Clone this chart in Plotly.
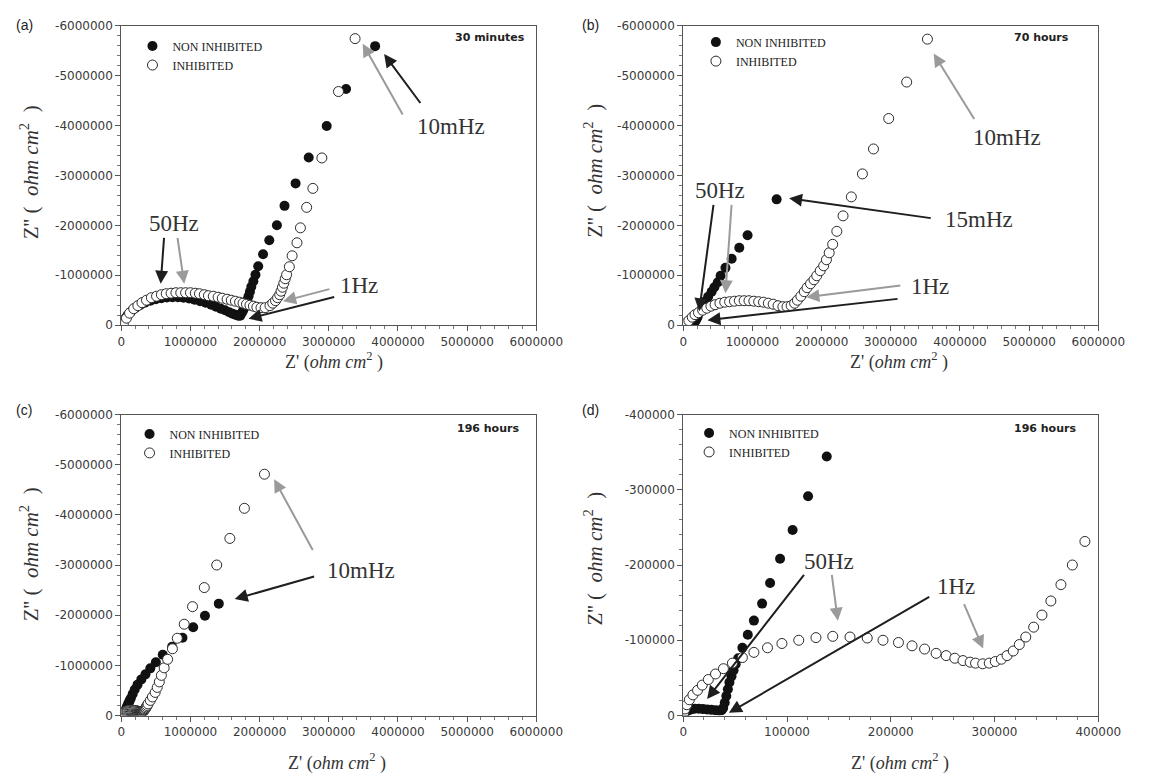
import numpy as np
import plotly.graph_objects as go

MEGA = 1e6
KILO = 1e3

# ---------------- (a) 30 minutes  (values in 10^6 ohm cm2, imag part given as -Z'') ----
a_non_zre = [0.00, 0.02, 0.05, 0.09, 0.14, 0.20, 0.27, 0.34, 0.42, 0.50, 0.58, 0.66, 0.74, 0.82, 0.90,
             0.98, 1.06, 1.14, 1.22, 1.30, 1.37, 1.44, 1.50, 1.56, 1.61, 1.65, 1.69, 1.72, 1.74, 1.76,
             1.78, 1.80, 1.82, 1.84, 1.86, 1.88, 1.91, 1.94, 1.98, 2.05, 2.14, 2.25, 2.36, 2.52, 2.71,
             2.97, 3.25, 3.67]
a_non_zim = [0.00, 0.06, 0.13, 0.20, 0.27, 0.34, 0.40, 0.45, 0.49, 0.52, 0.54, 0.555, 0.56, 0.56, 0.55,
             0.535, 0.51, 0.48, 0.45, 0.41, 0.37, 0.33, 0.30, 0.26, 0.23, 0.21, 0.19, 0.19, 0.24, 0.29,
             0.35, 0.42, 0.50, 0.58, 0.67, 0.77, 0.88, 1.01, 1.18, 1.42, 1.70, 2.00, 2.39, 2.84, 3.36,
             3.99, 4.73, 5.59]
a_inh_zre = [0.00, 0.03, 0.075, 0.12, 0.18, 0.24, 0.30, 0.365, 0.435, 0.51, 0.58, 0.65, 0.72, 0.79, 0.86,
             0.93, 1.00, 1.07, 1.13, 1.20, 1.26, 1.33, 1.40, 1.46, 1.53, 1.59, 1.65, 1.71, 1.76, 1.81,
             1.86, 1.91, 1.96, 2.02, 2.08, 2.15, 2.19, 2.23, 2.26, 2.29, 2.31, 2.33, 2.35, 2.37, 2.39,
             2.43, 2.47, 2.54, 2.59, 2.68, 2.77, 2.90, 3.14, 3.38]
a_inh_zim = [0.00, 0.013, 0.14, 0.24, 0.33, 0.39, 0.45, 0.50, 0.55, 0.58, 0.61, 0.63, 0.64, 0.65, 0.65,
             0.65, 0.65, 0.64, 0.63, 0.61, 0.59, 0.58, 0.56, 0.54, 0.52, 0.50, 0.48, 0.46, 0.44, 0.42,
             0.40, 0.38, 0.36, 0.35, 0.35, 0.39, 0.44, 0.49, 0.55, 0.61, 0.68, 0.76, 0.84, 0.93, 1.01,
             1.17, 1.39, 1.65, 1.95, 2.36, 2.74, 3.35, 4.68, 5.74]

# ---------------- (b) 70 hours (10^6 ohm cm2) ----------------
b_non_zre = [0.00, 0.02, 0.05, 0.08, 0.11, 0.14, 0.16, 0.175, 0.19, 0.20, 0.21, 0.24, 0.28, 0.31, 0.36,
             0.41, 0.45, 0.50, 0.54, 0.61, 0.70, 0.81, 0.93, 1.35]
b_non_zim = [0.00, 0.015, 0.03, 0.04, 0.045, 0.045, 0.05, 0.08, 0.12, 0.15, 0.18, 0.27, 0.37, 0.47, 0.57,
             0.67, 0.76, 0.86, 0.99, 1.15, 1.33, 1.55, 1.80, 2.52]
b_inh_zre = [0.00, 0.03, 0.08, 0.13, 0.17, 0.22, 0.28, 0.34, 0.40, 0.46, 0.53, 0.60, 0.67, 0.74, 0.81,
             0.88, 0.95, 1.02, 1.09, 1.16, 1.23, 1.30, 1.37, 1.44, 1.50, 1.56, 1.61, 1.65, 1.70, 1.75,
             1.79, 1.84, 1.89, 1.93, 1.98, 2.03, 2.07, 2.11, 2.16, 2.22, 2.31, 2.43, 2.59, 2.75, 2.97,
             3.23, 3.53]
b_inh_zim = [0.00, 0.03, 0.09, 0.16, 0.21, 0.25, 0.30, 0.34, 0.38, 0.41, 0.44, 0.46, 0.47, 0.48, 0.49,
             0.49, 0.49, 0.48, 0.47, 0.46, 0.44, 0.42, 0.39, 0.37, 0.37, 0.39, 0.44, 0.50, 0.58, 0.67,
             0.75, 0.83, 0.91, 0.99, 1.09, 1.19, 1.31, 1.45, 1.62, 1.88, 2.19, 2.57, 3.03, 3.53, 4.14,
             4.87, 5.73]

# ---------------- (c)/(d) 196 hours (10^3 ohm cm2) ----------------
c_non_zre = [0, 1.5, 4, 7.5, 11, 15, 19, 23, 27, 31, 34.5, 37, 38.5, 40, 41.5, 43, 44.5, 46.5, 48.5, 50.5,
             53, 57, 62.2, 68.1, 76, 83.7, 93.3, 105.4, 120.3, 138.3, 165, 195, 235, 290, 350, 420, 500,
             600, 735, 885, 1040, 1210, 1410]
c_non_zim = [0, 3, 6, 8, 9, 9, 8.5, 8, 7.5, 7, 6.5, 7, 10, 17, 26, 35, 44, 52, 60, 68,
             76, 90, 107.4, 126.1, 148.7, 176.1, 208.3, 246.5, 291.3, 344.3, 430, 520, 615, 720, 820, 940,
             1060, 1210, 1370, 1550, 1760, 1990, 2230]
c_inh_zre = [0.3, 1.7, 3.5, 5.9, 9.3, 13.8, 18.3, 24.2, 31.1, 38.7, 47.4, 57.0, 68.1, 81.2, 95.1, 111.3,
             127.9, 144.1, 160.7, 177.3, 192.5, 207.4, 220.5, 232.6, 243.7, 253.4, 261.7, 269.6, 276.5,
             281.7, 288.6, 294.9, 300.7, 306.6, 312.1, 318.0, 323.9, 330.1, 337.7, 345.7, 354.3, 364.0,
             375.0, 387.1, 420, 450, 490, 520, 550, 580, 620, 670, 740, 810, 910, 1030, 1200, 1380, 1570,
             1780, 2070]
c_inh_zim = [3.0, 8.7, 14.3, 20.9, 27.4, 33.5, 40.4, 47.8, 55.2, 62.2, 69.6, 77.0, 83.9, 90.0, 95.7, 100.0,
             103.5, 105.2, 104.3, 103.0, 100.0, 97.0, 92.6, 88.3, 82.6, 79.6, 76.1, 73.0, 70.9,
             69.6, 68.7, 69.6, 71.7, 74.8, 79.6, 85.7, 94.3, 104.3, 117.4, 133.5, 152.2, 173.9,
             200.0, 231.3, 300, 370, 460, 560, 670, 800, 950, 1120, 1330, 1540, 1820, 2170, 2550, 3000, 3530,
             4130, 4810]

series_names = ["NON INHIBITED", "INHIBITED"]
panel_titles = ["30 minutes", "70 hours", "196 hours", "196 hours"]
panel_letters = ["(a)", "(b)", "(c)", "(d)"]

big_ticks = [0, 1000000, 2000000, 3000000, 4000000, 5000000, 6000000]
big_xtext = ["0", "1000000", "2000000", "3000000", "4000000", "5000000", "6000000"]
big_yvals = [0, -1000000, -2000000, -3000000, -4000000, -5000000, -6000000]
big_ytext = ["0", "-1000000", "-2000000", "-3000000", "-4000000", "-5000000", "-6000000"]
small_ticks = [0, 100000, 200000, 300000, 400000]
small_xtext = ["0", "100000", "200000", "300000", "400000"]
small_yvals = [0, -100000, -200000, -300000, -400000]
small_ytext = ["0", "-100000", "-200000", "-300000", "-400000"]

W, H = 1154, 777
def px(v): return v / W
def py(v): return 1 - v / H

dom_x_left = [px(120.5), px(547)]
dom_x_right = [px(698), px(1124.5)]
dom_y_top = [py(324), py(19)]
dom_y_bot = [py(721.5), py(415)]

FILLED = "#111111"
OPEN_LINE = "#2a2a2a"
GRAY = "#9a9a9a"
DARK = "#1e1e1e"
SERIF = "Liberation Serif"
SANS = "DejaVu Sans"
MSIZE = 10

fig = go.Figure()

panels = [
    (a_non_zre, a_non_zim, a_inh_zre, a_inh_zim, MEGA, "x", "y", "legend"),
    (b_non_zre, b_non_zim, b_inh_zre, b_inh_zim, MEGA, "x2", "y2", "legend2"),
    (c_non_zre, c_non_zim, c_inh_zre, c_inh_zim, KILO, "x3", "y3", "legend3"),
    (c_non_zre, c_non_zim, c_inh_zre, c_inh_zim, KILO, "x4", "y4", "legend4"),
]
for nzr, nzi, izr, izi, sc, xa, ya, lg in panels:
    fig.add_trace(go.Scatter(
        x=np.array(nzr) * sc, y=-np.array(nzi) * sc, mode="markers", name=series_names[0],
        marker=dict(symbol="circle", size=MSIZE, color=FILLED, line=dict(width=0)),
        xaxis=xa, yaxis=ya, legend=lg, showlegend=True))
    fig.add_trace(go.Scatter(
        x=np.array(izr) * sc, y=-np.array(izi) * sc, mode="markers", name=series_names[1],
        marker=dict(symbol="circle", size=MSIZE, color="white", line=dict(width=1, color=OPEN_LINE)),
        xaxis=xa, yaxis=ya, legend=lg, showlegend=True))

tickfont = dict(family=SANS, size=12, color="#3a3a3a")

def axis_cfg(domain, anchor, rng, vals, text, minor_dt):
    return dict(domain=domain, anchor=anchor, range=rng, tickmode="array", tickvals=vals, ticktext=text,
                ticks="outside", ticklen=5, tickwidth=1, tickcolor="#555555",
                minor=dict(dtick=minor_dt, tick0=0, ticks="outside", ticklen=3, tickcolor="#777777"),
                showline=True, linecolor="#555555", linewidth=1, mirror=True,
                showgrid=False, zeroline=False, tickfont=tickfont)

legend_font = dict(family=SERIF, size=12, color="#222222")
def legend_cfg(xl, yt):
    return dict(x=px(xl), y=py(yt), xanchor="left", yanchor="top", bgcolor="rgba(0,0,0,0)",
                font=legend_font, borderwidth=0, itemsizing="trace", tracegroupgap=0)

annotations = []

def text_ann(xref, yref, x, y, s, color="#333333", size=23, family=SERIF, **kw):
    d = dict(x=x, y=y, xref=xref, yref=yref, text=s, showarrow=False,
             font=dict(family=family, size=size, color=color), xanchor="center", yanchor="middle")
    d.update(kw)
    annotations.append(d)

def arrow(xr, yr, head, tail, color):
    annotations.append(dict(x=head[0], y=head[1], ax=tail[0], ay=tail[1], xref=xr, yref=yr,
                            axref=xr, ayref=yr, text="", showarrow=True, arrowhead=2, arrowsize=1.3,
                            arrowwidth=2, arrowcolor=color, standoff=0))

M = MEGA
# (a)
arrow("x", "y", (3.80 * M, -5.43 * M), (4.34 * M, -4.42 * M), DARK)
arrow("x", "y", (3.49 * M, -5.64 * M), (4.08 * M, -4.19 * M), GRAY)
arrow("x", "y", (0.57 * M, -0.83 * M), (0.62 * M, -1.78 * M), DARK)
arrow("x", "y", (0.91 * M, -0.83 * M), (0.81 * M, -1.78 * M), GRAY)
arrow("x", "y", (2.34 * M, -0.48 * M), (3.03 * M, -0.73 * M), GRAY)
arrow("x", "y", (1.84 * M, -0.13 * M), (3.10 * M, -0.57 * M), DARK)
text_ann("x", "y", 4.76 * M, -3.98 * M, "10mHz")
text_ann("x", "y", 0.76 * M, -2.04 * M, "50Hz")
text_ann("x", "y", 3.43 * M, -0.80 * M, "1Hz")
# (b)
arrow("x2", "y2", (3.62 * M, -5.44 * M), (4.22 * M, -4.10 * M), GRAY)
arrow("x2", "y2", (1.53 * M, -2.54 * M), (3.60 * M, -2.14 * M), DARK)
arrow("x2", "y2", (0.23 * M, -0.28 * M), (0.44 * M, -2.44 * M), DARK)
arrow("x2", "y2", (0.61 * M, -0.64 * M), (0.70 * M, -2.44 * M), GRAY)
arrow("x2", "y2", (1.78 * M, -0.56 * M), (3.16 * M, -0.80 * M), GRAY)
arrow("x2", "y2", (0.35 * M, -0.10 * M), (3.12 * M, -0.53 * M), DARK)
text_ann("x2", "y2", 4.68 * M, -3.75 * M, "10mHz")
text_ann("x2", "y2", 4.27 * M, -2.12 * M, "15mHz")
text_ann("x2", "y2", 0.53 * M, -2.70 * M, "50Hz")
text_ann("x2", "y2", 3.57 * M, -0.78 * M, "1Hz")
# (c)
arrow("x3", "y3", (2.21 * M, -4.71 * M), (2.78 * M, -3.27 * M), GRAY)
arrow("x3", "y3", (1.64 * M, -2.32 * M), (2.81 * M, -2.78 * M), DARK)
text_ann("x3", "y3", 3.46 * M, -2.89 * M, "10mHz")
# (d)
L = 1e5
arrow("x4", "y4", (0.23 * L, -0.22 * L), (1.175 * L, -1.89 * L), DARK)
arrow("x4", "y4", (1.49 * L, -1.26 * L), (1.43 * L, -1.89 * L), GRAY)
arrow("x4", "y4", (0.44 * L, -0.035 * L), (2.385 * L, -1.587 * L), DARK)
arrow("x4", "y4", (2.89 * L, -0.89 * L), (2.70 * L, -1.50 * L), GRAY)
text_ann("x4", "y4", 1.40 * L, -2.05 * L, "50Hz")
text_ann("x4", "y4", 2.63 * L, -1.72 * L, "1Hz")

# time labels
for (xr, yc, t) in [(537, 31, panel_titles[0]), (1096, 31, panel_titles[1]),
                    (531, 429, panel_titles[2]), (1104, 429, panel_titles[3])]:
    text_ann("paper", "paper", px(xr), py(yc), "<b>" + t + "</b>", color="#222222", size=11,
             family=SANS, xanchor="right")

# panel letters
for (xc, yc, t) in [(21, 18, panel_letters[0]), (603, 18, panel_letters[1]),
                    (21, 410, panel_letters[2]), (603, 410, panel_letters[3])]:
    text_ann("paper", "paper", px(xc), py(yc), t, color="#222222", size=14, family="Liberation Sans")

# axis titles
NB = "\u00a0"
xtitle = "Z' (<i>ohm cm</i><sup>2</sup> )"
ytitle = "Z''" + NB + "(" + NB + NB + "<i>ohm cm</i><sup>2</sup>" + NB + NB + ")"
for (xc, yc) in [(339, 361), (920, 361), (342, 769), (921, 769)]:
    text_ann("paper", "paper", px(xc), py(yc), xtitle, color="#333333", size=18)
for (xc, yc) in [(27, 168), (606, 167), (27, 557), (606, 562)]:
    text_ann("paper", "paper", px(xc), py(yc), ytitle, color="#333333", size=21, textangle=-90)

fig.update_layout(
    width=W, height=H, margin=dict(l=0, r=0, t=0, b=0),
    paper_bgcolor="white", plot_bgcolor="white",
    xaxis=axis_cfg(dom_x_left, "y", [0, 6000000], big_ticks, big_xtext, 200000),
    yaxis=axis_cfg(dom_y_top, "x", [0, -6000000], big_yvals, big_ytext, 200000),
    xaxis2=axis_cfg(dom_x_right, "y2", [0, 6000000], big_ticks, big_xtext, 200000),
    yaxis2=axis_cfg(dom_y_top, "x2", [0, -6000000], big_yvals, big_ytext, 200000),
    xaxis3=axis_cfg(dom_x_left, "y3", [0, 6000000], big_ticks, big_xtext, 200000),
    yaxis3=axis_cfg(dom_y_bot, "x3", [0, -6000000], big_yvals, big_ytext, 200000),
    xaxis4=axis_cfg(dom_x_right, "y4", [0, 400000], small_ticks, small_xtext, 20000),
    yaxis4=axis_cfg(dom_y_bot, "x4", [0, -400000], small_yvals, small_ytext, 20000),
    legend=legend_cfg(132, 25),
    legend2=legend_cfg(711, 21),
    legend3=legend_cfg(129, 420),
    legend4=legend_cfg(704, 419),
    annotations=annotations,
    showlegend=True,
)

fig.write_html("out.html")
